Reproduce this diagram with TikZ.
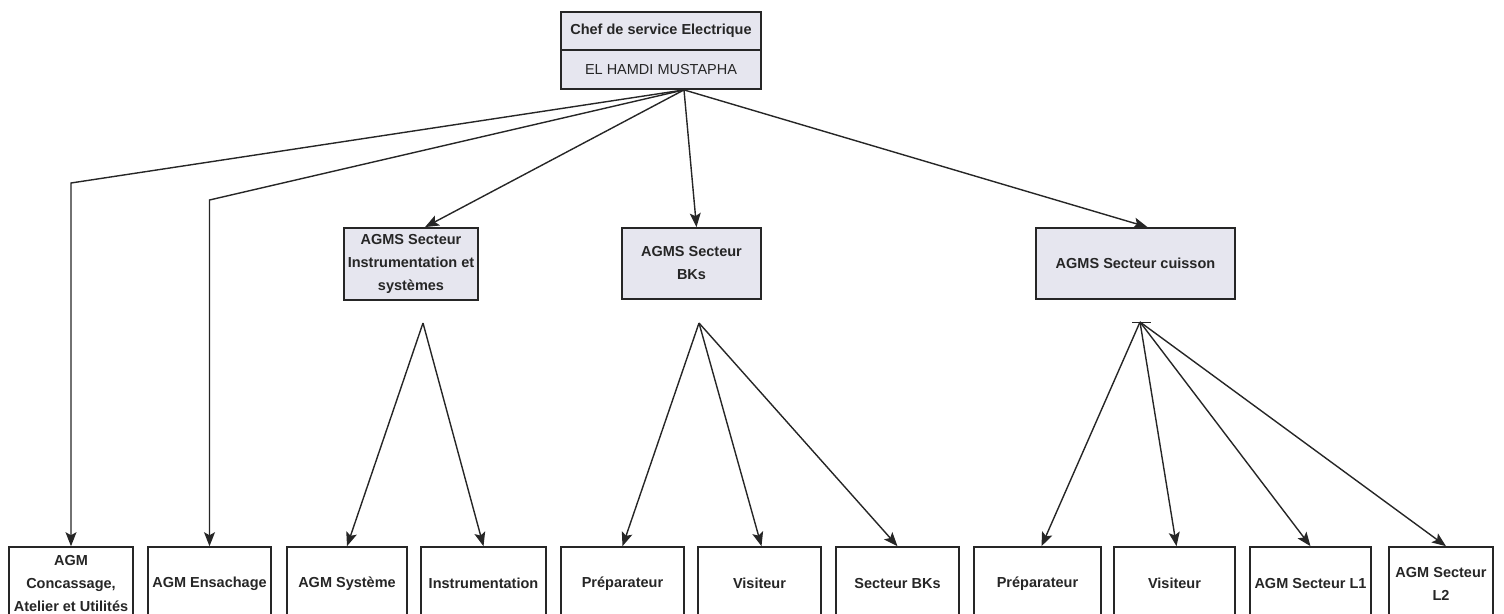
\documentclass[tikz,border=0pt]{standalone}
\usepackage{fontspec}
\setmainfont{Liberation Sans}
\usetikzlibrary{arrows.meta,calc}
\definecolor{boxfill}{HTML}{E6E6EF}
\definecolor{ink}{HTML}{262626}
\tikzset{
  label font/.style={font=\bfseries\fontsize{14.5}{23}\selectfont, text=ink},
  headbox/.style={draw=ink, line width=1.8pt, fill=boxfill, inner sep=0pt,
    align=center, label font},
  leafbox/.style={draw=ink, line width=1.6pt, fill=white, inner sep=0pt,
    align=center, label font, minimum height=73pt},
  link/.style={draw=ink, line width=1.4pt,
    -{Stealth[length=14pt, width=11pt, inset=3pt]}}
}
\begin{document}
\begin{tikzpicture}[x=1pt, y=-1pt]
  \useasboundingbox (0,0) rectangle (1504,613);

  % head of service
  \node[headbox, minimum width=200pt, minimum height=77pt] (chef) at (661,50.5) {};
  \node[label font, inner sep=0pt] (chefT) at (661,31) {Chef de service Electrique};
  \node[label font, font=\mdseries\fontsize{14.5}{23}\selectfont, inner sep=0pt] (chefN) at (661,69.5) {EL HAMDI MUSTAPHA};
  \draw[draw=ink, line width=1.4pt] (chef.west |- 0,50) -- (chef.east |- 0,50);
  \coordinate (hub) at ($(chef.south)+(23,0)$);

  % sector heads
  \node[headbox, minimum width=134pt, minimum height=72pt] (m1) at (411,264)
    {AGMS Secteur\\Instrumentation et\\systèmes};
  \node[headbox, minimum width=139pt, minimum height=71pt] (m2) at (691.5,263.5)
    {AGMS Secteur\\BKs};
  \node[headbox, minimum width=199pt, minimum height=71pt] (m3) at (1135.5,263.5)
    {AGMS Secteur cuisson};

  % fan-out points under each sector
  \coordinate (fanA) at (423,323);
  \coordinate (fanB) at (699,323);
  \coordinate (fanC) at (1140,322);
  \draw[draw=ink, line width=1pt] ($(fanC)+(-8,0)$) -- ($(fanC)+(11,0)$);

  % staff boxes
  \node[leafbox, minimum width=124pt] (b1) at (71,583.5) {AGM\\Concassage,\\Atelier et Utilités};
  \node[leafbox, minimum width=123pt] (b2) at (209.5,583.5) {AGM Ensachage};
  \node[leafbox, minimum width=120pt] (b3) at (347,583.5) {AGM Système};
  \node[leafbox, minimum width=125pt] (b4) at (483.5,583.5) {Instrumentation};
  \node[leafbox, minimum width=123pt] (b5) at (622.5,583.5) {Préparateur};
  \node[leafbox, minimum width=123pt] (b6) at (759.5,583.5) {Visiteur};
  \node[leafbox, minimum width=123pt] (b7) at (897.5,583.5) {Secteur BKs};
  \node[leafbox, minimum width=127pt] (b8) at (1037.5,583.5) {Préparateur};
  \node[leafbox, minimum width=121pt] (b9) at (1174.5,583.5) {Visiteur};
  \node[leafbox, minimum width=121pt] (b10) at (1310.5,583.5) {AGM Secteur L1};
  \node[leafbox, minimum width=104pt] (b11) at (1441,583.5) {AGM Secteur\\L2};

  % links from the head of service
  \draw[link] (hub) -- (b1.north |- 0,183) -- (b1.north);
  \draw[link] (hub) -- (b2.north |- 0,200) -- (b2.north);
  \draw[link] (hub) -- ($(m1.north)+(14,0)$);
  \draw[link] (hub) -- ($(m2.north)+(5,0)$);
  \draw[link] (hub) -- ($(m3.north)+(12,0)$);

  % links inside each sector
  \draw[link] (fanA) -- (b3.north);
  \draw[link] (fanA) -- (b4.north);
  \draw[link] (fanB) -- (b5.north);
  \draw[link] (fanB) -- ($(b6.north)+(2,0)$);
  \draw[link] (fanB) -- (b7.north);
  \draw[link] (fanC) -- ($(b8.north)+(4,0)$);
  \draw[link] (fanC) -- ($(b9.north)+(2,0)$);
  \draw[link] (fanC) -- (b10.north);
  \draw[link] (fanC) -- ($(b11.north)+(5,0)$);
\end{tikzpicture}
\end{document}
